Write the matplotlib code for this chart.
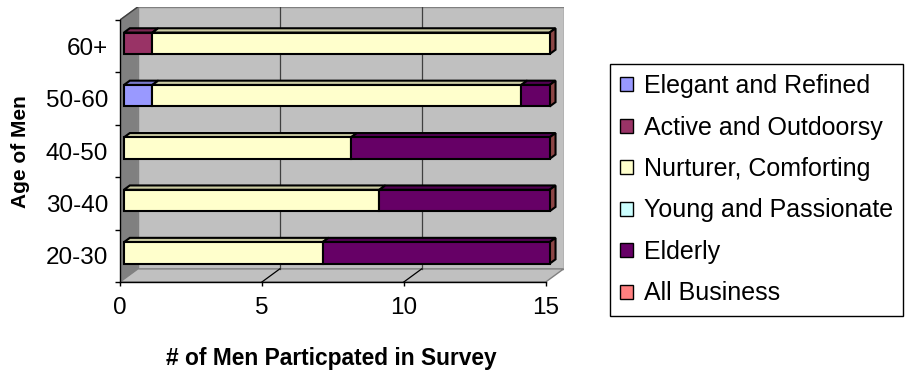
import numpy as np
import matplotlib
matplotlib.use('Agg')
import matplotlib.pyplot as plt
from matplotlib.patches import Polygon, Patch
from matplotlib.colors import to_rgb

plt.rcParams['font.family'] = ['Liberation Sans', 'DejaVu Sans']

# survey counts per age group
ages = ['20-30', '30-40', '40-50', '50-60', '60+']
series_names = ['Elegant and Refined', 'Active and Outdoorsy', 'Nurturer, Comforting',
                'Young and Passionate', 'Elderly', 'All Business']
elegant = [0, 0, 0, 1, 0]
active = [0, 0, 0, 0, 1]
nurturer = [7, 9, 8, 13, 14]
young = [0, 0, 0, 0, 0]
elderly = [8, 6, 7, 1, 0]
all_business = [0, 0, 0, 0, 0]
series_colors = ['#9999FF', '#993366', '#FFFFCC', '#CCFFFF', '#660066', '#FF8080']
x_ticks = [0, 5, 10, 15]


def shade(c, f):
    r, g, b = to_rgb(c)
    return (r * f, g * f, b * f)


W, H = 911, 374
fig = plt.figure(figsize=(W / 100, H / 100), dpi=100)

# pseudo-3d box: front plane is the data plane, back wall shifted by (dx, dy)
unit, band = 28.38, 52.4
x_max = 15
dx, dy = 0.63, 0.25
left_px, bottom_px = 120, 282
w_px = (x_max + dx) * unit
h_px = (len(ages) + dy) * band
ax = fig.add_axes([left_px / W, 1 - bottom_px / H, w_px / W, h_px / H])
ax.set_xlim(0, x_max + dx)
ax.set_ylim(-0.5, len(ages) - 0.5 + dy)
ax.patch.set_visible(False)
for s in ax.spines.values():
    s.set_visible(False)

y0, y1 = -0.5, len(ages) - 0.5
wall = '#C0C0C0'
side = '#808080'
ax.add_patch(Polygon([(dx, y0 + dy), (x_max + dx, y0 + dy), (x_max + dx, y1 + dy), (dx, y1 + dy)],
                     closed=True, facecolor=wall, edgecolor=side, lw=1, zorder=0))
ax.add_patch(Polygon([(0, y0), (0, y1), (dx, y1 + dy), (dx, y0 + dy)],
                     closed=True, facecolor=side, edgecolor=side, lw=1, zorder=0))
ax.add_patch(Polygon([(0, y0), (x_max, y0), (x_max + dx, y0 + dy), (dx, y0 + dy)],
                     closed=True, facecolor=wall, edgecolor=side, lw=1, zorder=0))
# left wall top edge
ax.plot([0, dx], [y1, y1 + dy], color='#404040', lw=1, zorder=1)

# gridlines on the back wall and across the floor
for t in x_ticks[1:-1]:
    ax.plot([t + dx, t + dx], [y0 + dy, y1 + dy], color='#404040', lw=0.9, zorder=1)
    ax.plot([t, t + dx], [y0, y0 + dy], color='black', lw=0.9, zorder=1)

# axis lines
ax.plot([0, x_max], [y0, y0], color='black', lw=1, zorder=5, clip_on=False)
ax.plot([0, 0], [y0, y1], color='black', lw=1, zorder=5, clip_on=False)

# stacked bars with top faces and an end cap
values = np.array([elegant, active, nurturer, young, elderly, all_business], dtype=float)
lefts = np.vstack([np.zeros(len(ages)), np.cumsum(values, axis=0)[:-1]])
z1, z2 = 0.22, 0.55
ox, oy = z1 * dx, z1 * dy
tx, ty = (z2 - z1) * dx, (z2 - z1) * dy
bh = 0.41
ypos = np.arange(len(ages)) + oy
for k in range(len(series_names)):
    mask = values[k] > 0
    if not mask.any():
        continue
    ax.barh(ypos[mask], values[k][mask], left=lefts[k][mask] + ox, height=bh,
            color=series_colors[k], edgecolor='black', lw=1.5, zorder=4)
    for y, l, v in zip(ypos[mask], lefts[k][mask] + ox, values[k][mask]):
        top = y + bh / 2
        ax.add_patch(Polygon([(l, top), (l + v, top), (l + v + tx, top + ty), (l + tx, top + ty)],
                             closed=True, facecolor=shade(series_colors[k], 0.8),
                             edgecolor='black', lw=1.5, zorder=3))
totals = values.sum(axis=0)
for y, tot in zip(ypos, totals):
    r = tot + ox
    ax.add_patch(Polygon([(r, y - bh / 2), (r, y + bh / 2), (r + tx, y + bh / 2 + ty), (r + tx, y - bh / 2 + ty)],
                         closed=True, facecolor=shade(series_colors[-1], 0.55),
                         edgecolor='black', lw=1.5, zorder=3))

# ticks
ax.set_xticks(x_ticks)
ax.set_xticklabels([str(t) for t in x_ticks])
ax.tick_params(axis='x', direction='out', length=3, width=1, pad=7.5, labelsize=17.5)
ax.set_yticks(np.arange(len(ages) + 1) - 0.5)
ax.set_yticklabels([])
ax.set_yticks(np.arange(len(ages)), minor=True)
ax.set_yticklabels(ages, minor=True)
ax.tick_params(axis='y', which='major', direction='out', length=3.6, width=1)
ax.tick_params(axis='y', which='minor', length=0, pad=8.6, labelsize=17.5)

fig.text(331 / W, 1 - 359 / H, '# of Men Particpated in Survey', fontsize=16.4, fontweight='bold',
         ha='center', va='center')
fig.text(21 / W, 1 - 152 / H, 'Age of Men', fontsize=15, fontweight='bold',
         ha='center', va='center', rotation=90)

handles = [Patch(facecolor=c, edgecolor='black', lw=1) for c in series_colors]
leg = fig.legend(handles, series_names, loc='upper left', bbox_to_anchor=(610 / W, 1 - 64 / H),
                 frameon=True, fancybox=False, fontsize=18, handlelength=0.5, handleheight=0.5,
                 handletextpad=0.45, labelspacing=0.7, borderpad=0.4, borderaxespad=0,
                 framealpha=1, edgecolor='black')
leg.get_frame().set_linewidth(1.0)

fig.savefig('out.png', dpi=100)
